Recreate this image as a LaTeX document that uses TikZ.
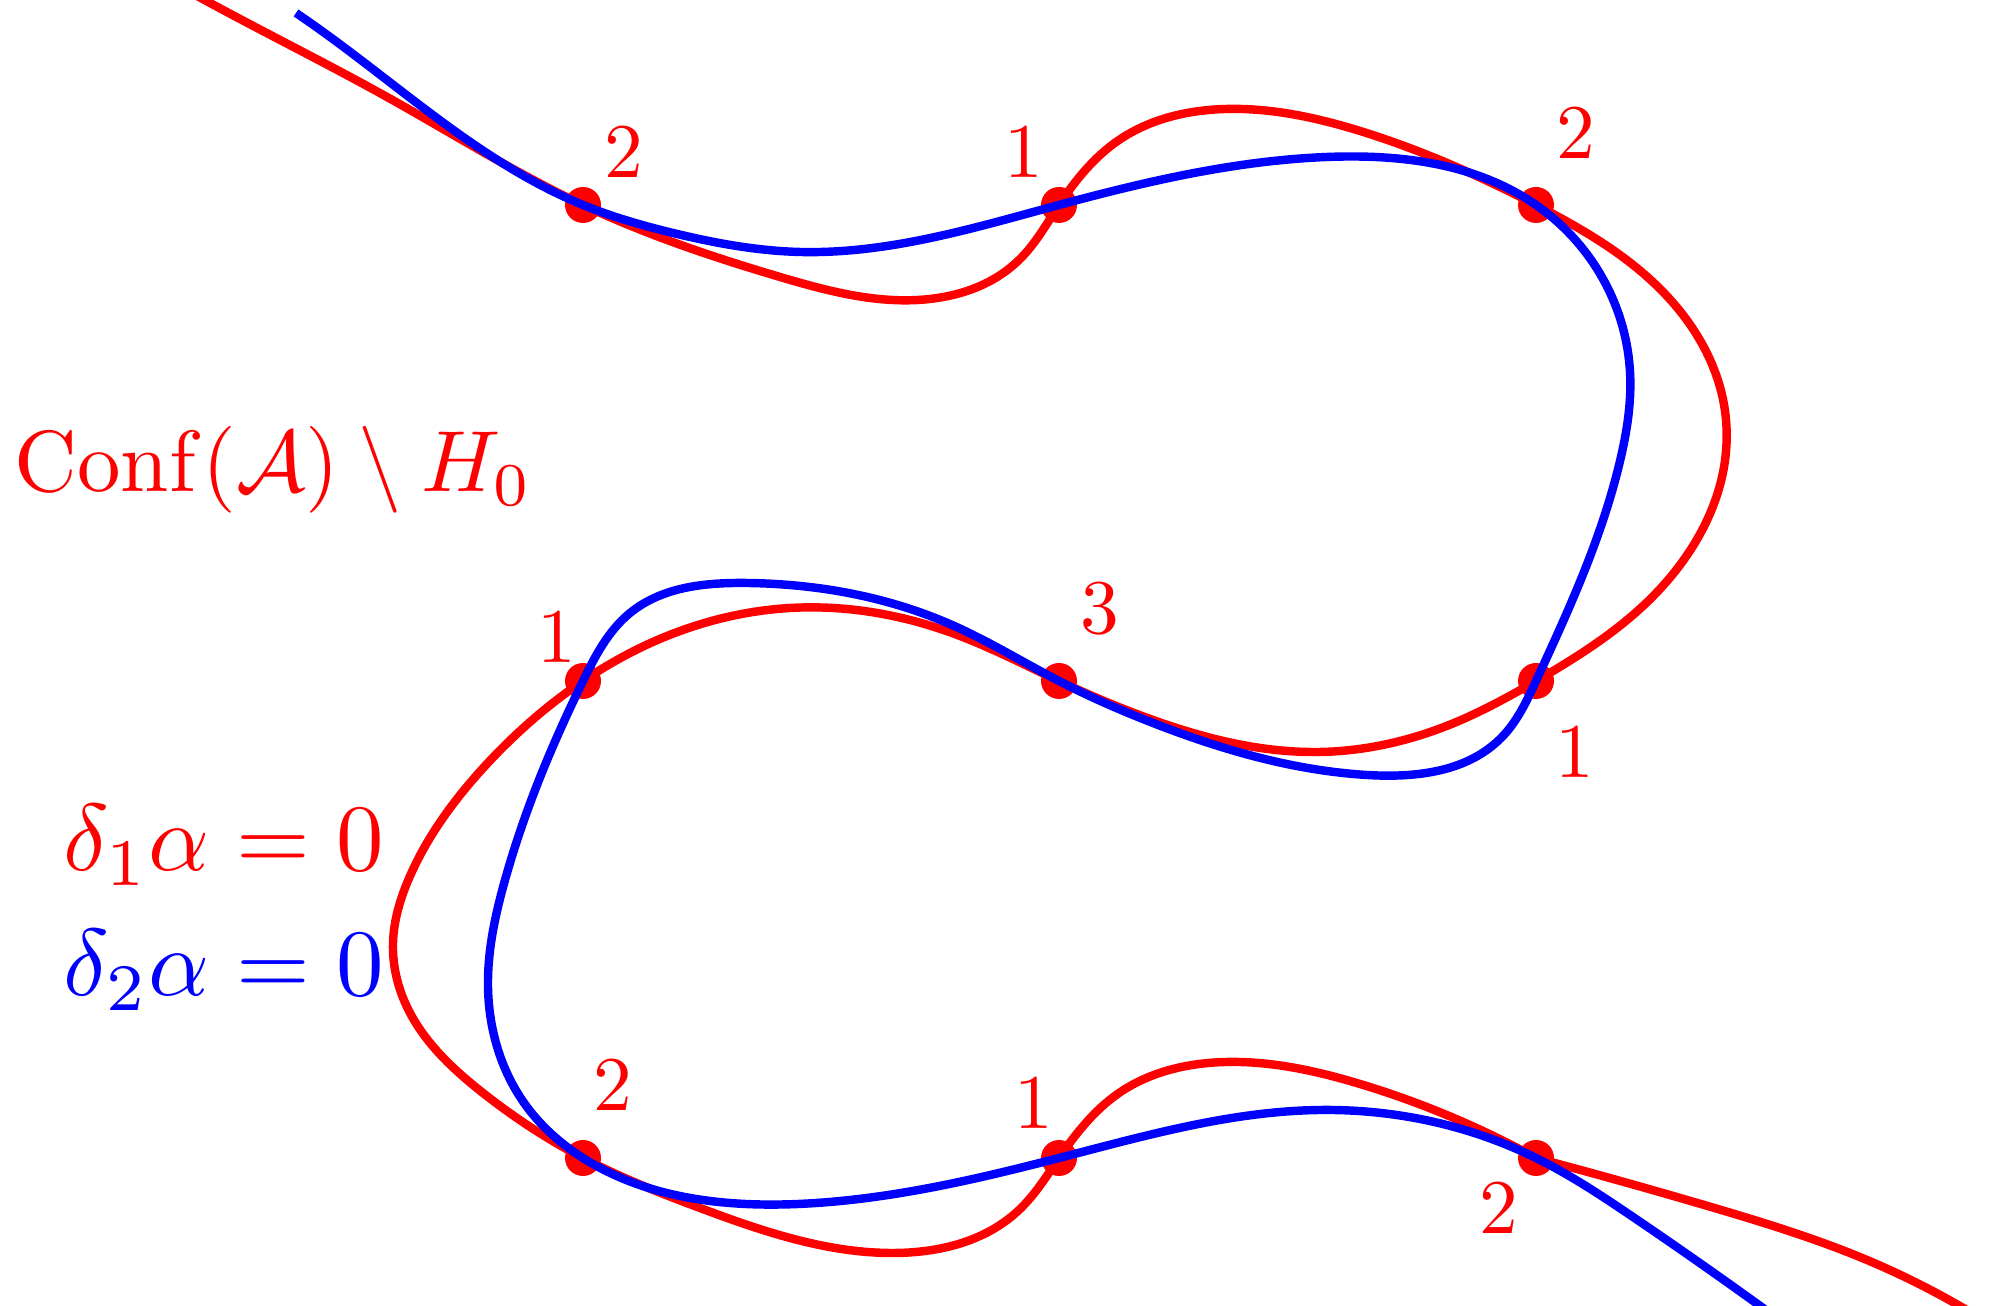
\documentclass[tikz,border=0pt]{standalone}
\usepackage{amsmath,amssymb}
\usetikzlibrary{calc, hobby}
\definecolor{lvlred}{HTML}{FF0000}
\definecolor{lvlblue}{HTML}{0000FF}

\begin{document}
\begin{tikzpicture}[
  every node/.style={inner sep=0pt},
  redcurve/.style={lvlred, line width=2.4pt, line join=round, use Hobby shortcut},
  bluecurve/.style={lvlblue, line width=2.4pt, line join=round, use Hobby shortcut},
  mult/.style={text=lvlred, scale=2.2},
  bigtext/.style={scale=2.7, anchor=base west},
]

% Frame
\useasboundingbox (0,0) rectangle (20.10,13.06);
\clip (0,0) rectangle (20.10,13.06);

% Intersection points (3 x 3 grid)
\coordinate (t1) at (5.83,11.01);
\coordinate (t2) at (10.59,11.01);
\coordinate (t3) at (15.36,11.01);
\coordinate (m1) at (5.83,6.25);
\coordinate (m2) at (10.59,6.25);
\coordinate (m3) at (15.36,6.25);
\coordinate (b1) at (5.83,1.48);
\coordinate (b2) at (10.59,1.48);
\coordinate (b3) at (15.36,1.48);

% Dots
\foreach \p in {t1,t2,t3,m1,m2,m3,b1,b2,b3}
  \fill[lvlred] (\p) circle (0.18);

% delta_1 alpha = 0 (the dot at b3 hides the joint)
\draw[redcurve] ([out angle=-29]1.90,13.14) .. (3.87,12.09) .. (t1) .. (7.80,10.29)
  .. (8.92,10.06) .. (10.19,10.46) .. (t2) .. (11.19,11.66) .. (12.26,11.97)
  .. (13.60,11.75) .. (t3) .. (16.65,10.12) .. (17.26,8.86) .. (16.43,7.00)
  .. (m3) .. (14.54,5.83) .. (13.20,5.54) .. (11.53,5.86) .. (m2)
  .. (9.52,6.73) .. (7.90,6.98) .. (6.30,6.53) .. (m1) .. (4.85,5.40)
  .. (4.10,4.30) .. (3.93,3.63) .. (4.07,2.99) .. (4.83,2.13) .. (b1)
  .. (7.00,0.98) .. (8.92,0.53) .. (10.19,0.96) .. (b2) .. (11.19,2.13)
  .. (12.26,2.44) .. (13.60,2.22) .. (b3);
\draw[redcurve] (b3) .. (17.11,0.99) .. (18.67,0.46) .. (19.70,-0.06);

% delta_2 alpha = 0
\draw[bluecurve] ([out angle=-34]2.96,12.93) .. (t1) .. (6.73,10.73)
  .. (8.00,10.54) .. (t2) .. (13.27,11.49) .. (t3) .. (16.30,9.34)
  .. (16.20,8.45) .. (m3) .. (15.02,5.69) .. (13.67,5.31)
  .. (11.53,5.83) .. (m2) .. (9.52,6.81) .. (7.47,7.23) .. (6.30,6.93)
  .. (m1) .. (5.43,5.36) .. (5.05,4.26) .. (4.88,3.19) .. (5.27,1.99)
  .. (b1) .. (7.98,1.02) .. (b2) .. (13.20,1.96) .. (b3) .. (16.33,0.89)
  .. (17.74,-0.10);

% Multiplicities
\node[mult] (n t1) at (6.24,11.54) {2};
\node[mult] (n t2) at (10.24,11.54) {1};
\node[mult] (n t3) at (15.76,11.73) {2};
\node[mult] (n m1) at (5.57,6.69) {1};
\node[mult] (n m2) at (11.00,6.97) {3};
\node[mult] (n m3) at (15.75,5.54) {1};
\node[mult] (n b1) at (6.13,2.21) {2};
\node[mult] (n b2) at (10.34,2.03) {1};
\node[mult] (n b3) at (14.99,0.98) {2};

% Labels
\node[bigtext, scale=0.915, text=lvlred] (conf) at (0.13,8.14) {$\mathrm{Conf}(\mathcal{A})\setminus H_0$};
\node[bigtext, text=lvlred] (eq one) at (0.62,4.35) {$\delta_1\alpha=0$};
\node[bigtext, text=lvlblue] (eq two) at (0.62,3.10) {$\delta_2\alpha=0$};

\end{tikzpicture}
\end{document}
